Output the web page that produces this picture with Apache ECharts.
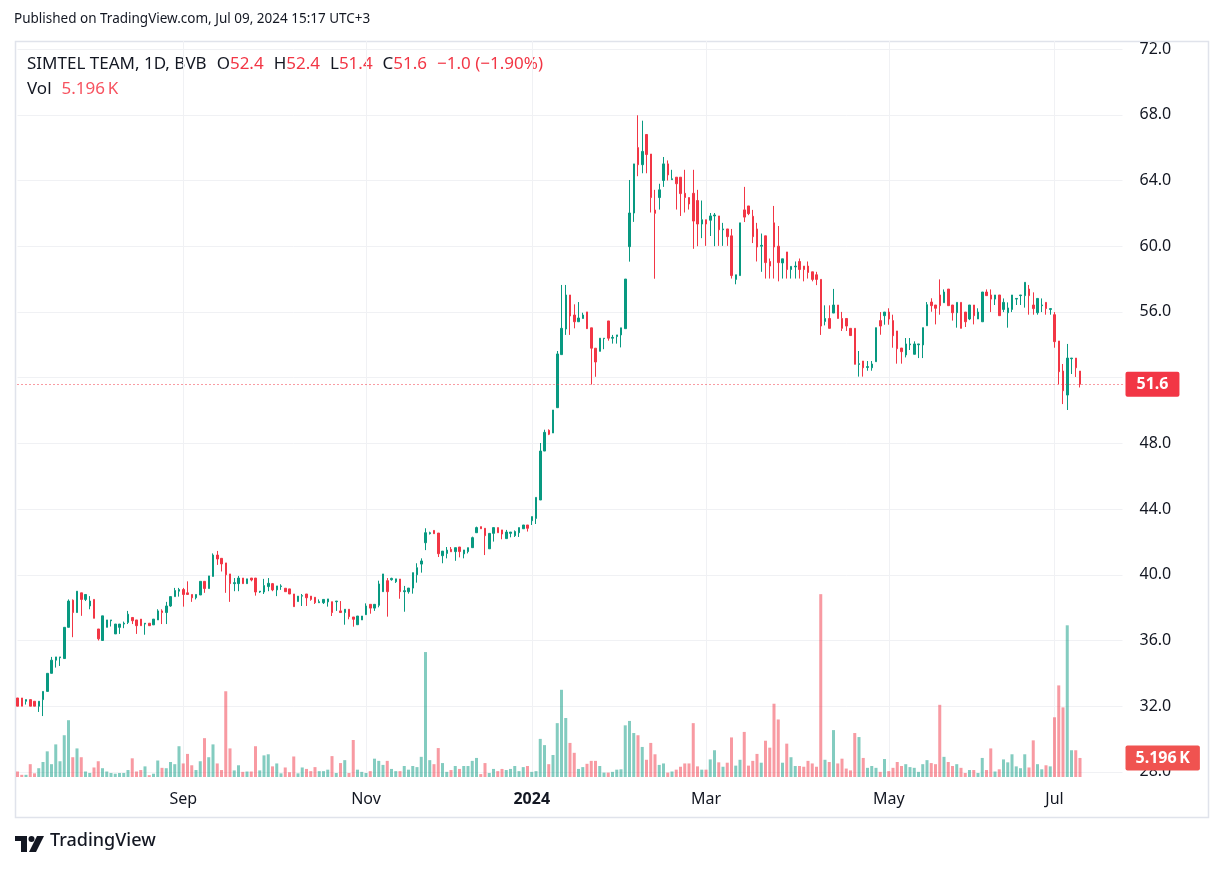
<!DOCTYPE html>
<html><head><meta charset="utf-8">
<script src="https://cdn.jsdelivr.net/npm/echarts@6/dist/echarts.min.js"></script>
<style>html,body{margin:0;padding:0;background:#fff}#c{width:1224px;height:871px}</style>
</head><body><div id="c"></div>
<script>
// ---- data ----
const firstDay = '2023-07-07';
const holidays = ['2023-08-15','2023-11-30','2023-12-01','2023-12-25','2023-12-26','2024-01-01','2024-01-02','2024-01-24','2024-05-01','2024-05-03','2024-05-06','2024-06-24'];
const monthTicks = {'2023-09':'Sep','2023-11':'Nov','2024-01':'2024','2024-03':'Mar','2024-05':'May','2024-07':'Jul'};
const priceTicks = [28,32,36,40,44,48,52,56,60,64,68,72];

const openP = [32.5,32.5,32.3,32.4,32.3,32.0,32.4,32.9,34.0,34.8,
34.95,34.9,36.8,38.45,37.7,38.9,38.5,38.1,38.5,36.7,
36.0,36.8,37.2,36.4,36.8,37.0,37.1,37.4,37.25,37.3,
37.0,37.05,36.95,37.25,37.8,37.7,38.1,38.67,39.0,39.1,
38.9,38.8,38.6,38.77,39.6,39.16,39.9,41.2,41.0,40.72,
40.05,39.46,39.46,39.8,39.46,39.8,39.8,38.95,38.95,39.28,
39.46,39.08,39.28,39.18,39.14,38.83,38.37,38.7,38.83,38.7,
38.63,38.3,38.3,38.35,38.36,38.36,37.8,37.7,37.9,37.43,
36.96,37.25,37.57,38.2,37.97,38.14,38.97,39.64,39.7,39.58,
39.74,38.97,38.97,39.19,40.0,40.65,41.95,42.5,42.7,42.54,
41.16,41.3,41.55,41.41,41.69,41.27,41.41,41.65,42.56,42.93,
42.83,41.58,42.52,42.87,42.73,42.2,42.52,42.38,42.56,42.8,
43.03,43.29,43.43,44.55,47.53,48.79,48.63,50.17,53.4,54.96,
57.03,55.81,55.4,55.6,56.0,55.03,53.79,53.6,54.37,55.45,
54.4,54.5,54.6,54.98,59.97,62.02,66.0,64.96,66.8,65.61,
62.2,62.96,64.0,65.01,64.05,64.2,64.2,63.22,62.96,63.22,
62.78,61.35,61.61,61.58,61.84,61.84,61.0,61.05,60.63,57.98,
58.21,62.21,62.45,61.82,61.05,60.0,60.63,59.07,61.42,60.0,
58.98,59.65,58.58,58.74,59.07,58.79,58.79,58.44,58.26,57.98,
55.42,55.6,55.93,56.42,55.6,55.6,55.0,55.0,52.8,53.01,
52.62,52.6,52.97,55.47,55.77,55.99,55.47,54.84,53.8,53.38,
54.0,53.42,54.0,53.99,55.16,56.6,56.42,57.03,56.56,57.39,
56.42,55.95,56.58,55.99,55.57,56.42,55.57,55.4,57.21,57.03,
56.78,57.03,56.15,55.95,56.15,56.78,56.99,56.99,57.39,56.42,
55.95,56.38,56.58,56.15,55.83,54.23,52.4,50.94,53.15,53.19,
52.4];
const highP = [32.5,32.5,32.4,32.4,32.3,32.3,32.9,34.0,35.0,35.0,
35.0,36.8,38.5,38.5,39.0,38.9,38.8,38.7,38.5,36.7,
37.5,37.25,37.25,37.0,37.0,37.15,37.8,37.4,37.25,37.3,
37.05,37.05,37.3,37.9,37.9,38.35,38.67,39.2,39.2,39.2,
39.6,38.8,38.8,39.6,39.6,39.93,41.3,41.45,41.0,40.72,
40.05,39.8,39.93,39.8,39.75,39.8,39.8,39.0,39.75,39.8,
39.5,39.32,39.42,39.18,39.14,38.83,38.7,38.83,38.83,38.7,
38.63,38.5,38.5,38.53,38.36,38.4,38.4,37.9,37.9,37.43,
37.49,37.49,38.26,38.2,38.2,39.64,40.05,39.8,39.82,39.75,
39.74,39.32,39.19,40.13,40.7,41.0,42.83,42.62,42.7,42.54,
41.44,41.69,41.69,41.65,41.69,41.51,41.65,42.32,42.93,42.93,
42.83,42.52,42.87,42.87,42.73,42.73,42.6,42.7,42.87,43.03,
43.03,43.54,44.71,48.02,48.83,48.85,50.03,53.62,57.64,57.64,
57.03,56.46,56.6,55.95,56.0,55.03,53.79,54.4,54.4,55.45,
54.6,54.6,55.03,58.0,64.03,65.01,67.97,67.64,66.8,65.61,
63.43,63.8,65.43,65.22,64.65,64.2,64.2,64.65,62.96,64.65,
63.43,62.78,61.61,62.02,62.02,61.84,61.42,61.05,61.05,58.26,
61.42,63.61,62.45,62.21,61.42,60.77,60.63,59.25,62.45,61.23,
59.23,59.65,58.77,59.07,59.25,58.79,59.07,58.44,58.44,57.98,
56.4,56.4,57.4,56.42,56.0,55.6,55.0,55.0,53.62,53.01,
53.01,53.01,55.04,55.99,55.99,56.22,55.83,54.84,53.8,54.41,
54.41,54.21,54.05,55.04,56.6,56.83,56.42,57.98,57.37,57.39,
56.42,56.58,56.58,55.99,56.42,56.42,56.22,57.21,57.37,57.37,
57.03,57.03,56.82,56.58,57.03,56.82,57.03,57.8,57.64,57.19,
56.82,56.82,56.58,56.2,55.99,54.23,52.83,54.05,53.19,53.19,
52.4];
const lowP = [32.0,32.0,32.1,32.0,32.0,31.65,31.4,32.9,34.0,34.35,
34.45,34.9,36.8,36.2,37.7,37.5,38.4,37.9,37.35,36.0,
36.0,36.8,36.85,36.4,36.4,36.75,37.0,37.0,36.4,36.9,
36.35,36.9,36.95,37.25,37.0,37.0,38.05,38.67,38.67,38.06,
38.8,38.35,38.5,38.77,38.9,39.16,39.9,40.6,40.2,38.9,
38.35,39.0,39.0,39.46,39.46,39.6,38.73,38.9,38.83,39.0,
39.0,38.7,39.08,38.97,38.83,38.06,38.37,38.1,38.1,38.42,
38.22,38.3,38.22,38.06,37.49,37.8,37.7,36.96,37.29,36.84,
36.96,37.25,37.57,37.63,37.8,38.02,38.97,37.45,39.64,39.5,
38.54,37.75,38.85,38.85,39.52,40.13,41.5,42.45,42.5,41.08,
40.7,41.0,41.4,40.85,41.06,41.0,41.3,41.65,42.56,42.8,
41.2,41.58,42.02,42.56,42.16,42.2,42.28,42.3,42.3,42.8,
42.63,43.03,43.09,44.55,47.53,48.5,48.63,50.17,53.4,54.6,
54.6,55.0,55.4,55.6,54.96,51.58,52.05,53.6,53.73,54.25,
54.07,54.07,53.84,54.98,59.06,61.48,64.26,64.44,64.44,62.05,
58.02,62.23,63.61,64.0,64.05,62.23,61.84,62.05,62.23,59.84,
60.0,60.49,60.02,60.62,60.0,60.02,60.02,60.02,58.03,57.68,
58.21,61.47,61.89,60.19,59.07,58.44,58.03,58.03,58.03,57.86,
58.03,58.03,58.03,58.03,58.03,57.86,58.03,57.86,57.63,54.6,
55.18,55.0,55.93,55.6,54.84,54.84,54.56,52.81,52.06,52.06,
52.42,52.42,52.97,54.61,55.22,55.22,53.82,52.85,52.85,53.23,
53.68,53.42,53.19,53.19,55.16,56.01,55.24,55.83,56.56,56.38,
55.47,55.04,55.0,55.08,55.5,55.24,55.57,55.4,56.99,55.99,
56.42,55.77,55.99,55.04,55.99,56.42,56.42,56.26,55.83,55.83,
55.83,55.99,55.83,55.83,53.82,51.59,50.39,50.03,52.22,52.04,
51.4];
const closeP = [32.0,32.0,32.4,32.0,32.0,32.3,32.9,34.0,34.8,35.0,
35.0,36.8,38.4,37.7,39.0,38.5,38.8,38.4,37.35,36.1,
37.5,37.25,37.25,37.0,37.0,37.05,37.6,37.2,36.9,36.9,
37.05,36.9,37.3,37.8,37.7,38.1,38.67,39.04,39.1,38.8,
38.8,38.6,38.8,39.6,39.16,39.93,41.2,40.96,40.66,40.0,
39.46,39.52,39.8,39.46,39.75,39.68,38.95,39.0,39.34,39.48,
39.08,39.32,39.32,38.97,38.83,38.06,38.7,38.73,38.6,38.5,
38.3,38.36,38.5,38.53,37.7,38.4,37.7,37.9,37.45,37.29,
37.49,37.49,38.1,37.97,38.2,39.44,40.05,38.97,39.78,39.75,
38.97,39.03,39.19,40.13,40.43,40.84,42.56,42.56,42.5,41.28,
41.44,41.5,41.4,41.65,41.41,41.51,41.65,42.26,42.87,42.8,
42.38,42.52,42.87,42.56,42.48,42.6,42.6,42.63,42.87,43.03,
42.83,43.54,44.71,47.53,48.67,48.55,50.03,53.44,55.0,57.03,
55.75,55.4,55.63,55.81,54.98,53.79,52.95,54.4,54.4,54.4,
54.45,54.6,55.03,58.0,62.02,65.01,64.96,65.77,65.58,62.96,
62.0,63.43,65.01,64.34,64.1,63.8,63.2,62.96,62.57,61.53,
61.35,61.61,61.35,61.84,61.9,61.0,61.05,60.58,58.21,58.26,
61.42,61.77,61.98,60.58,59.95,60.05,59.0,58.79,59.95,59.0,
59.23,58.58,58.77,58.79,58.58,58.58,58.4,57.98,57.98,55.14,
55.6,55.0,56.42,55.6,55.0,55.14,54.56,52.81,52.85,52.6,
52.67,52.83,55.04,55.14,55.99,55.57,54.55,53.76,53.58,54.05,
54.05,54.05,54.05,55.04,56.44,56.38,56.22,56.38,57.21,56.38,
55.95,56.58,55.0,55.4,56.42,55.77,55.99,57.21,56.99,56.78,
57.03,55.77,56.58,56.24,57.03,56.82,57.03,57.8,56.99,56.2,
56.82,56.42,56.2,56.2,54.19,52.36,51.2,53.19,53.19,52.6,
51.6];
const volumeK = [1.5,0.6,0.6,3.5,1.0,2.4,4.1,7.0,3.5,8.9,
4.3,11.4,15.5,5.4,7.8,5.4,1.5,1.1,2.6,4.3,
2.4,1.5,1.1,0.9,1.1,1.1,1.9,5.1,1.5,1.9,
2.9,0.5,0.9,4.5,2.5,2.4,4.1,3.5,8.4,3.7,
6.3,3.2,1.9,4.3,10.6,5.4,8.9,3.7,1.9,23.4,
7.8,1.8,3.2,1.4,1.5,1.5,8.4,1.8,5.9,6.2,
2.9,3.7,1.0,2.6,1.3,5.6,1.0,2.6,2.2,1.6,
2.7,1.6,1.6,2.0,5.7,1.1,3.8,4.6,1.1,10.1,
2.0,1.4,1.1,1.6,5.0,4.4,3.3,4.4,2.2,1.6,
1.6,3.0,2.0,3.0,2.7,5.5,34.1,4.6,3.5,7.9,
3.8,1.4,1.9,3.0,2.2,3.0,3.0,4.4,5.2,0.8,
3.8,1.1,2.2,1.6,2.2,1.9,2.2,3.0,1.6,2.7,
3.0,1.4,1.6,10.4,8.7,3.5,6.0,14.7,23.8,16.1,
9.3,6.6,2.2,2.7,3.6,4.4,4.4,3.0,1.2,1.2,
1.4,2.0,2.1,14.1,15.3,12.0,11.4,8.2,4.7,9.3,
6.2,3.3,3.7,1.2,1.5,2.0,2.8,3.7,3.7,14.7,
2.9,2.0,2.0,4.8,7.3,4.0,2.8,3.9,10.8,3.1,
4.7,12.3,3.1,4.4,6.3,3.9,9.9,8.0,20.0,15.7,
3.9,9.1,5.4,3.0,3.0,2.8,4.4,3.7,2.8,49.9,
4.7,4.1,12.8,3.7,5.0,2.3,1.8,12.0,10.9,5.2,
2.5,3.0,2.5,1.4,4.9,1.6,2.5,4.1,3.0,3.5,
2.7,2.5,1.4,3.5,4.6,3.8,3.5,19.7,5.5,4.1,
3.0,3.5,2.5,1.1,1.9,1.9,1.1,5.2,1.9,7.8,
1.5,2.1,4.8,4.0,6.2,2.9,2.4,6.2,2.6,10.0,
3.5,2.1,3.2,2.9,16.3,25.0,19.0,41.4,7.3,7.3,
5.196];

// ---- categories: trading days (plus empty right margin days) ----
const N = closeP.length;
const TOTAL = 261;
const dates = [];
{
  let d = new Date(firstDay + 'T00:00:00Z');
  while (dates.length < TOTAL) {
    const s = d.toISOString().slice(0, 10);
    const wd = d.getUTCDay();
    if (wd !== 0 && wd !== 6 && holidays.indexOf(s) < 0) dates.push(s);
    d = new Date(d.getTime() + 86400000);
  }
}
function isMonthTick(idx) {
  if (idx <= 0 || idx >= dates.length) return false;
  const m = dates[idx].slice(0, 7);
  return m !== dates[idx - 1].slice(0, 7) && monthTicks[m] !== undefined;
}

const UP = '#089981', DOWN = '#f23645';
const UPV = 'rgba(8,153,129,0.5)', DOWNV = 'rgba(242,54,69,0.5)';
const candleData = openP.map((o, i) => [o, closeP[i], lowP[i], highP[i]]);
const volData = volumeK.map((v, i) => ({ value: v, itemStyle: { color: closeP[i] >= openP[i] ? UPV : DOWNV } }));

const lastO = openP[N - 1], lastH = highP[N - 1], lastL = lowP[N - 1], lastC = closeP[N - 1];
const chg = lastC - closeP[N - 2];
const pct = chg / closeP[N - 2] * 100;
const chgTxt = (chg < 0 ? '\u2212' : '+') + Math.abs(chg).toFixed(1) + ' (' + (pct < 0 ? '\u2212' : '+') + Math.abs(pct).toFixed(2) + '%)';
const volTxt = volumeK[N - 1].toFixed(3) + '\u2009K';

const FONT = 'Noto Sans';
const TXT = '#131722';

const gridLeft = 17.5, gridRight = 101.5, gridTop = 41, gridBottom = 94;

const chart = echarts.init(document.getElementById('c'), null, { renderer: 'canvas' });
chart.setOption({
  animation: false,
  backgroundColor: '#ffffff',
  textStyle: { fontFamily: FONT },
  grid: [
    { left: gridLeft, right: gridRight, top: gridTop, bottom: gridBottom, outerBoundsMode: 'none' },
    { left: gridLeft, right: gridRight, top: 537, bottom: gridBottom, outerBoundsMode: 'none' }
  ],
  xAxis: [
    { type: 'category', gridIndex: 0, data: dates, boundaryGap: false,
      axisLine: { show: false }, axisTick: { show: false }, axisLabel: { show: false },
      splitLine: { show: true, interval: (i) => isMonthTick(i), lineStyle: { color: '#f0f1f4', width: 1 } } },
    { type: 'category', gridIndex: 1, data: dates, boundaryGap: false,
      axisLine: { show: false }, axisTick: { show: false }, splitLine: { show: false },
      axisLabel: { show: true, interval: (i) => isMonthTick(i), margin: 14,
        formatter: (v) => { const t = monthTicks[v.slice(0, 7)]; return /^\d+$/.test(t) ? '{b|' + t + '}' : t; },
        color: TXT, fontSize: 16, fontFamily: FONT,
        rich: { b: { fontWeight: 'bold', fontSize: 16, color: TXT, fontFamily: FONT } } } }
  ],
  yAxis: [
    { type: 'value', gridIndex: 0, position: 'right', min: 27.69, max: 72.49, scale: true,
      axisLine: { show: false },
      axisTick: { show: false, customValues: priceTicks },
      axisLabel: { show: true, customValues: priceTicks,
        // the scale hides a tick label that collides with the last-price label
        formatter: (v) => (Math.abs(v - lastC) < 1.2 ? '' : v.toFixed(1)),
        color: TXT, fontSize: 16, fontFamily: FONT, margin: 17 },
      splitLine: { show: true, lineStyle: { color: '#f0f1f4', width: 1 } } },
    { type: 'value', gridIndex: 1, min: 0, max: 65.5, show: false, splitLine: { show: false } }
  ],
  series: [
    { type: 'bar', name: 'Vol', xAxisIndex: 1, yAxisIndex: 1, data: volData, barWidth: 3, z: 1, silent: true,
      markLine: { silent: true, symbol: ['none', 'none'], animation: false,
        lineStyle: { color: 'rgba(255,255,255,0)', width: 0 },
        label: { show: true, position: 'end', distance: 3, formatter: () => volTxt,
          backgroundColor: '#f05350', color: '#ffffff', fontSize: 16, fontWeight: 'bold', fontFamily: FONT,
          padding: [5, 10, 4, 10], borderRadius: 2 },
        data: [{ yAxis: volumeK[N - 1] }] } },
    { type: 'candlestick', name: 'SIMTEL TEAM', xAxisIndex: 0, yAxisIndex: 0, data: candleData, barWidth: 2, z: 3, clip: false, silent: true,
      itemStyle: { color: UP, color0: DOWN, borderColor: UP, borderColor0: DOWN, borderWidth: 1 },
      markLine: { silent: true, symbol: ['none', 'none'], animation: false,
        lineStyle: { color: DOWN, type: [1, 3], width: 1 },
        label: { show: true, position: 'end', distance: 3, formatter: () => lastC.toFixed(1),
          backgroundColor: DOWN, color: '#ffffff', fontSize: 16, fontWeight: 'bold', fontFamily: FONT,
          padding: [5, 11, 4, 11], borderRadius: 2 },
        data: [{ yAxis: lastC }] } }
  ],
  graphic: [
    { type: 'rect', silent: true, z: 0, shape: { x: 15.5, y: 41.5, width: 1193, height: 776 }, style: { fill: 'none', stroke: '#e0e3eb', lineWidth: 1.5 } },
    { type: 'text', silent: true, left: 14, top: 12, style: { text: 'Published on TradingView.com, Jul 09, 2024 15:17 UTC+3', fill: TXT, font: '13.5px "' + FONT + '"' } },
    { type: 'text', silent: true, left: 27, top: 56, style: {
        text: '{n|SIMTEL TEAM, 1D, BVB}   {n|O}{r|' + lastO.toFixed(1) + '}   {n|H}{r|' + lastH.toFixed(1) + '}   {n|L}{r|' + lastL.toFixed(1) + '}   {n|C}{r|' + lastC.toFixed(1) + '}   {r|' + chgTxt + '}',
        rich: { n: { fill: TXT, font: '17px "' + FONT + '"' }, r: { fill: DOWN, font: '17px "' + FONT + '"' } } } },
    { type: 'text', silent: true, left: 27, top: 81, style: {
        text: '{n|Vol}   {r|' + volTxt + '}',
        rich: { n: { fill: TXT, font: '17px "' + FONT + '"' }, r: { fill: '#f7525f', font: '17px "' + FONT + '"' } } } },
    { type: 'group', silent: true, left: 15, top: 836, children: [
        { type: 'rect', shape: { x: 0, y: 0, width: 12, height: 5 }, style: { fill: TXT } },
        { type: 'rect', shape: { x: 6, y: 0, width: 6, height: 16 }, style: { fill: TXT } },
        { type: 'circle', shape: { cx: 16.5, cy: 3, r: 3 }, style: { fill: TXT } },
        { type: 'polygon', shape: { points: [[22, 0], [29, 0], [21, 16], [14, 16]] }, style: { fill: TXT } }
    ] },
    { type: 'text', silent: true, left: 50, top: 832, style: { text: 'TradingView', fill: TXT, font: '500 18px "' + FONT + '"' } }
  ]
});
</script>
</body></html>
